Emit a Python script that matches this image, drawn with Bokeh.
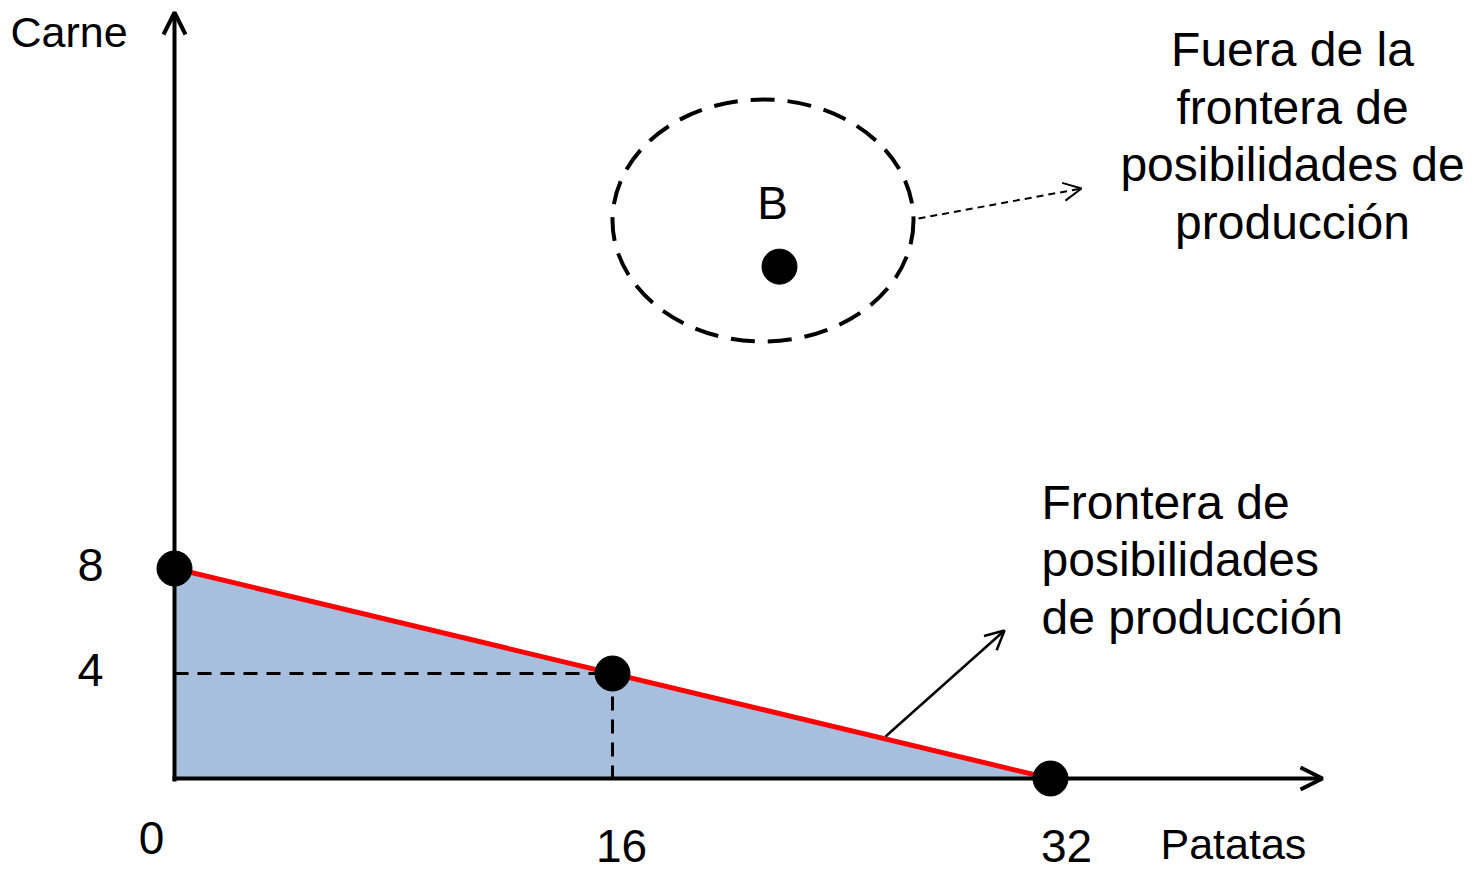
from bokeh.plotting import figure
from bokeh.models import Range1d, Arrow, OpenHead
from bokeh.core.properties import value
from bokeh.embed import file_html
from bokeh.resources import INLINE

# ---------------- data ----------------
frontier_patatas = [0, 16, 32]
frontier_carne = [8, 4, 0]
x_tick_values = [0, 16, 32]
x_tick_labels = ["0", "16", "32"]
y_tick_values = [8, 4]
y_tick_labels = ["8", "4"]
point_b_patatas = [22.1]
point_b_carne = [19.5]
point_b_label = ["B"]
x_axis_title = "Patatas"
y_axis_title = "Carne"
outside_text = ["Fuera de la", "frontera de", "posibilidades de", "producción"]
frontier_text = ["Frontera de", "posibilidades", "de producción"]

# ---------------- geometry ----------------
W, H = 1474, 873
PX_X, PX_Y = 27.375, 26.25          # pixels per unit
ORIGIN_SX, ORIGIN_SY = 174, 778     # origin in figure pixels (from left / top)
x_start = -ORIGIN_SX / PX_X
x_end = x_start + W / PX_X
y_start = -(H - ORIGIN_SY) / PX_Y
y_end = y_start + H / PX_Y
LIFT = 15  # pixels to raise text baselines


def dx(px):  # picture pixel -> data x
    return (px - ORIGIN_SX) / PX_X


def dy(py):  # picture pixel -> data y
    return (ORIGIN_SY - py) / PX_Y


FONT = value("Liberation Sans")

p = figure(width=W, height=H, x_range=Range1d(x_start, x_end), y_range=Range1d(y_start, y_end),
           output_backend="svg", toolbar_location=None, x_axis_location=None, y_axis_location=None,
           min_border=0, outline_line_color=None, background_fill_color="white",
           border_fill_color="white")
p.xgrid.grid_line_color = None
p.ygrid.grid_line_color = None

# shaded feasible region
p.patch(x=[0] + frontier_patatas, y=[0] + frontier_carne, fill_color="#A7BFDD",
        line_color="#3E6493", line_width=2)

# dashed guides to the middle point
mid_x, mid_y = frontier_patatas[1], frontier_carne[1]
p.segment(x0=[0, mid_x], y0=[mid_y, mid_y], x1=[mid_x, mid_x], y1=[mid_y, 0],
          line_color="black", line_width=3, line_dash="14 9")

# frontier line
p.line(x=[frontier_patatas[0], frontier_patatas[-1]], y=[frontier_carne[0], frontier_carne[-1]],
       line_color="#FF0000", line_width=5)

# axes with arrows
p.add_layout(Arrow(end=OpenHead(size=22, line_width=4, line_color="black"),
                   x_start=0, y_start=dy(781), x_end=0, y_end=dy(12),
                   line_width=4, line_color="black"))
p.add_layout(Arrow(end=OpenHead(size=22, line_width=4, line_color="black"),
                   x_start=dx(172), y_start=0, x_end=dx(1322), y_end=0,
                   line_width=4, line_color="black"))

# points
p.scatter(x=frontier_patatas, y=frontier_carne, size=35, color="black")
p.scatter(x=point_b_patatas, y=point_b_carne, size=35, color="black")

# ellipse around B
p.ellipse(x=[dx(762.5)], y=[dy(220)], width=[301 / PX_X], height=[242 / PX_Y],
          fill_color=None, line_color="black", line_width=4, line_dash="24 13")

# annotation arrows
p.add_layout(Arrow(end=OpenHead(size=19, line_width=2.5, line_color="black"),
                   x_start=dx(885), y_start=dy(736), x_end=dx(1004), y_end=dy(630),
                   line_width=2.5, line_color="black"))
p.add_layout(Arrow(end=OpenHead(size=18, line_width=2, line_color="black"),
                   x_start=dx(918), y_start=dy(218), x_end=dx(1081), y_end=dy(188),
                   line_width=2, line_color="black", line_dash="7 5"))

# tick labels
x_lab_dx = [-23, 9, 16]
x_lab_dy = [-74, -82, -82]
p.text(x=[v + o / PX_X for v, o in zip(x_tick_values, x_lab_dx)],
       y=[(o + LIFT) / PX_Y for o in x_lab_dy], text=x_tick_labels,
       text_font=FONT, text_font_size="46px", text_color="black",
       text_align="center", text_baseline="alphabetic")
p.text(x=[-84 / PX_X] * len(y_tick_values), y=[v + (LIFT - 11) / PX_Y for v in y_tick_values],
       text=y_tick_labels, text_font=FONT, text_font_size="47px", text_color="black",
       text_align="center", text_baseline="alphabetic")

# axis titles
p.text(x=[dx(10)], y=[dy(46 - LIFT)], text=[y_axis_title], text_font=FONT, text_font_size="43px",
       text_color="black", text_align="left", text_baseline="alphabetic")
p.text(x=[dx(1160)], y=[dy(858 - LIFT)], text=[x_axis_title], text_font=FONT, text_font_size="43px",
       text_color="black", text_align="left", text_baseline="alphabetic")

# point B label
p.text(x=[point_b_patatas[0] - 7 / PX_X], y=[point_b_carne[0] + (49 + LIFT) / PX_Y],
       text=point_b_label, text_font=FONT, text_font_size="46px", text_color="black",
       text_align="center", text_baseline="alphabetic")

# annotation texts
p.text(x=[dx(1292)] * len(outside_text), y=[dy(b - LIFT) for b in [64, 122, 179, 237]],
       text=outside_text, text_font=FONT, text_font_size="48px", text_color="black",
       text_align="center", text_baseline="alphabetic")
p.text(x=[dx(1041)] * len(frontier_text), y=[dy(b - LIFT - 2) for b in [519, 576, 634]],
       text=frontier_text, text_font=FONT, text_font_size="48px", text_color="black",
       text_align="left", text_baseline="alphabetic")

open("out.html", "w").write(file_html(p, INLINE))
